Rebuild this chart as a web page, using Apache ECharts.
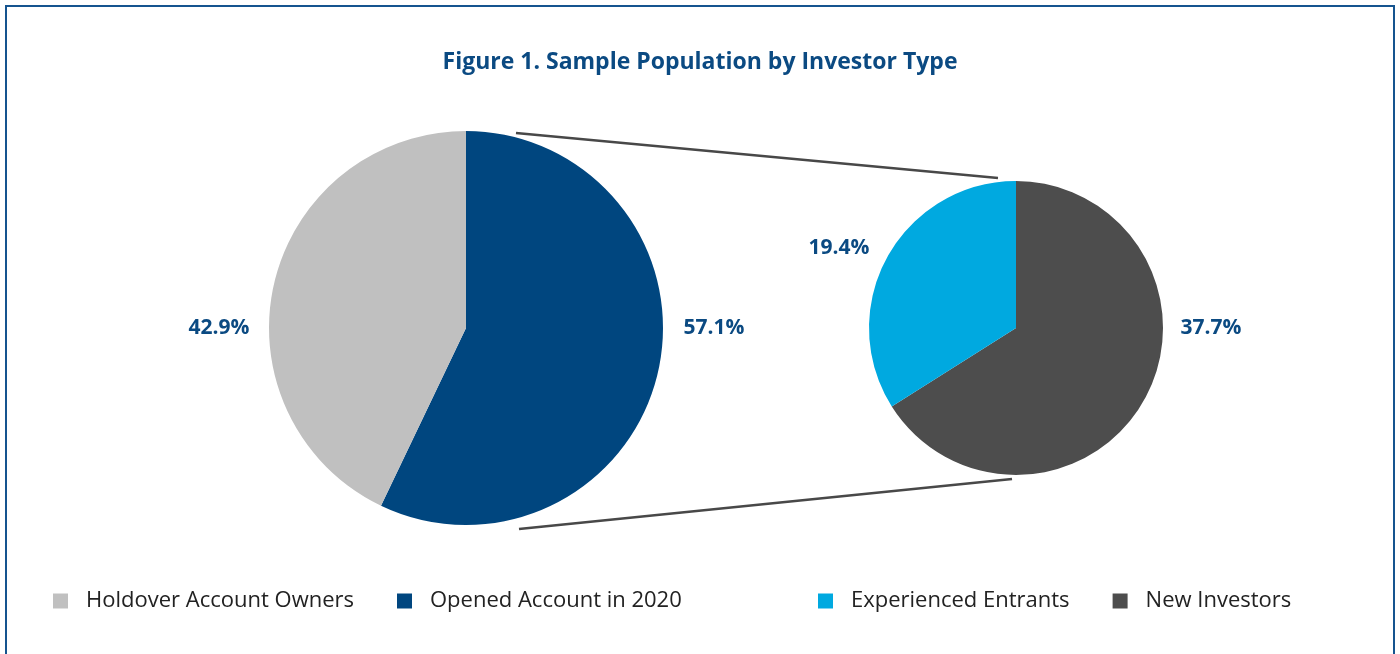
<!DOCTYPE html>
<html>
<head>
<meta charset="utf-8">
<script src="https://cdn.jsdelivr.net/npm/echarts@6/dist/echarts.min.js"></script>
<style>
  html, body { margin: 0; padding: 0; background: #fff; }
  #chart { width: 1400px; height: 654px; }
</style>
</head>
<body>
<div id="chart"></div>
<script>
// data
const mainNames = ['Opened Account in 2020', 'Holdover Account Owners'];
const mainValues = [57.1, 42.9];
const subNames = ['New Investors', 'Experienced Entrants'];
const subValues = [37.7, 19.4];

const colors = {
  'Holdover Account Owners': '#c0c0c0',
  'Opened Account in 2020': '#00467f',
  'Experienced Entrants': '#00a9e0',
  'New Investors': '#4d4d4d'
};

// label spots (label centers)
const labelPos = {
  'Opened Account in 2020': [714, 328],
  'Holdover Account Owners': [219, 328],
  'New Investors': [1211, 328],
  'Experienced Entrants': [839, 248]
};

const FONT = 'Open Sans';
const labelColor = '#0b4a82';

function pieData(names, values) {
  return names.map((n, i) => ({ name: n, value: values[i], itemStyle: { color: colors[n] } }));
}

function placeLabel(p) {
  const name = p.seriesIndex === 0 ? mainNames[p.dataIndex] : subNames[p.dataIndex];
  const pos = labelPos[name];
  return { x: pos[0], y: pos[1], align: 'center', verticalAlign: 'middle' };
}

const labelStyle = {
  show: true,
  position: 'outside',
  formatter: '{c}%',
  fontFamily: FONT,
  fontSize: 21,
  fontWeight: 'bold',
  color: labelColor
};

const legendBase = {
  top: 590,
  padding: 0,
  icon: 'rect', itemWidth: 15, itemHeight: 15, itemGap: 43,
  textStyle: { fontFamily: FONT, fontSize: 22, color: '#222', padding: [0, 0, 0, 13] }
};

const chart = echarts.init(document.getElementById('chart'));
chart.setOption({
  animation: false,
  title: {
    text: 'Figure 1. Sample Population by Investor Type',
    left: 'center',
    top: 46,
    textStyle: { fontFamily: FONT, fontSize: 23, fontWeight: 'bold', color: labelColor }
  },
  legend: [
    Object.assign({ data: ['Holdover Account Owners', 'Opened Account in 2020'], left: 53 }, legendBase),
    Object.assign({ data: ['Experienced Entrants', 'New Investors'], left: 818 }, legendBase)
  ],
  graphic: [
    {
      type: 'rect', silent: true,
      shape: { x: 6, y: 6, width: 1388, height: 700 },
      style: { fill: 'none', stroke: '#15548f', lineWidth: 2 }
    },
    {
      type: 'line', silent: true,
      shape: { x1: 516, y1: 133, x2: 998, y2: 178 },
      style: { stroke: '#484848', lineWidth: 2.5 }
    },
    {
      type: 'line', silent: true,
      shape: { x1: 519, y1: 529, x2: 1012, y2: 479 },
      style: { stroke: '#484848', lineWidth: 2.5 }
    }
  ],
  series: [
    {
      type: 'pie',
      center: [466, 328],
      radius: 197,
      startAngle: 90,
      clockwise: true,
      label: labelStyle,
      labelLine: { show: false },
      labelLayout: placeLabel,
      emphasis: { disabled: true },
      data: pieData(mainNames, mainValues)
    },
    {
      type: 'pie',
      center: [1016, 328],
      radius: 147,
      startAngle: 90,
      clockwise: true,
      label: labelStyle,
      labelLine: { show: false },
      labelLayout: placeLabel,
      emphasis: { disabled: true },
      data: pieData(subNames, subValues)
    }
  ]
});
</script>
</body>
</html>
